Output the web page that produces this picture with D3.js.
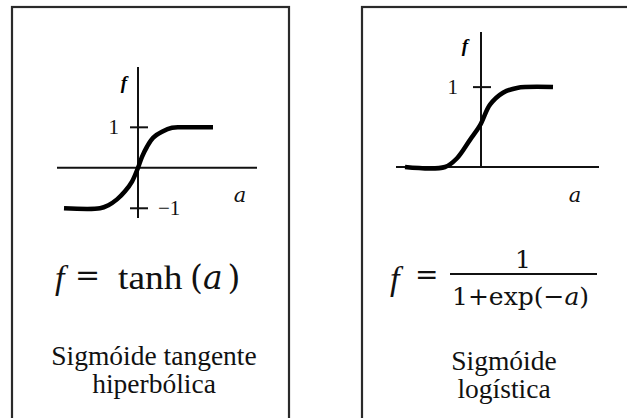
<!DOCTYPE html>
<html>
<head>
<meta charset="utf-8">
<script src="https://cdn.jsdelivr.net/npm/d3@7"></script>
</head>
<body style="margin:0">
<svg id="chart" width="627" height="418"></svg>
<script>
const SERIF = "Liberation Serif";
const MATH = "DejaVu Serif";

// curve points (a, f)
const tanhA = [-7.4, -3.8, -3.0, -2.1, -1.3, -0.6, 0, 0.4, 0.9, 1.5, 2.4, 3.4, 4.5, 7.5];
const tanhF = [-1, -1, -0.93, -0.78, -0.58, -0.34, 0, 0.27, 0.52, 0.74, 0.89, 0.99, 1, 1];
const logA = [-7.6, -3.6, -2.4, -1.1, -0.1, 0.9, 2.2, 3.6, 7.2];
const logF = [0, 0, 0.11, 0.34, 0.52, 0.78, 0.93, 0.99, 1];
const tanhTicks = [1, -1];
const logTicks = [1];
const tanhTickLabels = ["1", "\u22121"];
const logTickLabels = ["1"];

const svg = d3.select("#chart");

function txt(x, y, size, s, fam) {
  return svg.append("text")
    .attr("x", x).attr("y", y)
    .attr("font-family", fam || SERIF)
    .attr("font-size", size)
    .attr("fill", "#111")
    .text(s);
}

// panel frames
svg.append("rect").attr("x", 12).attr("y", 7).attr("width", 277).attr("height", 430)
  .attr("fill", "none").attr("stroke", "#2a2a2a").attr("stroke-width", 2.2);
svg.append("rect").attr("x", 362).attr("y", 7).attr("width", 300).attr("height", 430)
  .attr("fill", "none").attr("stroke", "#2a2a2a").attr("stroke-width", 2.2);

function drawPanel(cfg) {
  const x = d3.scaleLinear().domain(cfg.xDomain).range(cfg.xRange);
  const y = d3.scaleLinear().domain(cfg.yDomain).range(cfg.yRange);
  const g = svg.append("g");

  // axes
  g.append("line")
    .attr("x1", x(cfg.xDomain[0])).attr("x2", x(cfg.xDomain[1]))
    .attr("y1", y(0)).attr("y2", y(0))
    .attr("stroke", "#111").attr("stroke-width", 2);
  g.append("line")
    .attr("x1", x(0)).attr("x2", x(0))
    .attr("y1", y(cfg.yDomain[0])).attr("y2", y(cfg.yDomain[1]))
    .attr("stroke", "#111").attr("stroke-width", 2);

  // ticks crossing the vertical axis
  g.selectAll(".tick")
    .data(cfg.ticks)
    .enter()
    .append("line")
    .attr("x1", x(0) - 8).attr("x2", x(0) + 10)
    .attr("y1", d => y(d)).attr("y2", d => y(d))
    .attr("stroke", "#111").attr("stroke-width", 2);

  const pts = cfg.a.map((v, i) => [v, cfg.f[i]]);
  const line = d3.line()
    .x(d => x(d[0]))
    .y(d => y(d[1]))
    .curve(d3.curveCatmullRom.alpha(0.5));
  g.append("path")
    .datum(pts)
    .attr("d", line)
    .attr("fill", "none")
    .attr("stroke", "#000")
    .attr("stroke-width", 4.5);

  // labels
  g.append("text")
    .attr("x", x(0) - cfg.fGap).attr("y", y(cfg.fLabelAt))
    .attr("text-anchor", "end")
    .attr("font-family", SERIF).attr("font-size", 19)
    .attr("font-style", "italic").attr("font-weight", "bold")
    .text("f");
  g.selectAll(".tl")
    .data(cfg.ticks)
    .enter()
    .append("text")
    .attr("x", d => d > 0 ? x(0) - cfg.tickGap : x(0) + 20)
    .attr("y", d => y(d) + 7)
    .attr("text-anchor", d => d > 0 ? "end" : "start")
    .attr("font-family", SERIF).attr("font-size", 21)
    .attr("fill", "#111")
    .text((d, i) => cfg.tickLabels[i]);
  g.append("text")
    .attr("x", cfg.aLabelX).attr("y", 202)
    .attr("text-anchor", "middle")
    .attr("font-family", MATH).attr("font-size", 21)
    .attr("font-style", "italic").attr("fill", "#111")
    .text("a");
}

drawPanel({
  xDomain: [-8.1, 11.9], xRange: [57, 257],
  yDomain: [-1.24, 2.49], yRange: [218, 67],
  a: tanhA, f: tanhF, ticks: tanhTicks, tickLabels: tanhTickLabels,
  fLabelAt: 1.95, aLabelX: 240, fGap: 11, tickGap: 19
});
drawPanel({
  xDomain: [-8.5, 11.8], xRange: [396, 599],
  yDomain: [0, 1.69], yRange: [167, 32],
  a: logA, f: logF, ticks: logTicks, tickLabels: logTickLabels,
  fLabelAt: 1.44, aLabelX: 575, fGap: 13, tickGap: 23
});

// formula: f = tanh (a)
txt(55, 289, 34, "f").attr("font-style", "italic");
txt(75, 285, 30, "=", MATH);
svg.append("g").attr("transform", "translate(118,289) scale(1.1,1)")
  .append("text")
  .attr("font-family", SERIF).attr("font-size", 34).attr("fill", "#111")
  .text("tanh");
const paren = txt(190, 289, 33, "", MATH);
paren.append("tspan").text("(");
paren.append("tspan").attr("font-style", "italic").text("a");
paren.append("tspan").attr("dx", 5).text(")");

// formula: f = 1 / (1+exp(-a))
txt(390, 290, 34, "f").attr("font-style", "italic");
txt(415, 284, 28, "=", MATH);
svg.append("line").attr("x1", 450).attr("x2", 597).attr("y1", 274).attr("y2", 274)
  .attr("stroke", "#111").attr("stroke-width", 1.8);
txt(523, 268, 25, "1", MATH).attr("text-anchor", "middle");
const den = txt(452, 305, 25, "", MATH);
den.append("tspan").text("1+exp(\u2212");
den.append("tspan").attr("font-style", "italic").text("a");
den.append("tspan").text(")");

// captions
const captions = [
  { x: 154, lines: ["Sigmóide tangente", "hiperbólica"], y: 365 },
  { x: 504, lines: ["Sigmóide", "logística"], y: 370 }
];
captions.forEach(c => {
  c.lines.forEach((t, i) => {
    txt(c.x, c.y + i * 28, 27.5, t).attr("text-anchor", "middle");
  });
});
</script>
</body>
</html>
